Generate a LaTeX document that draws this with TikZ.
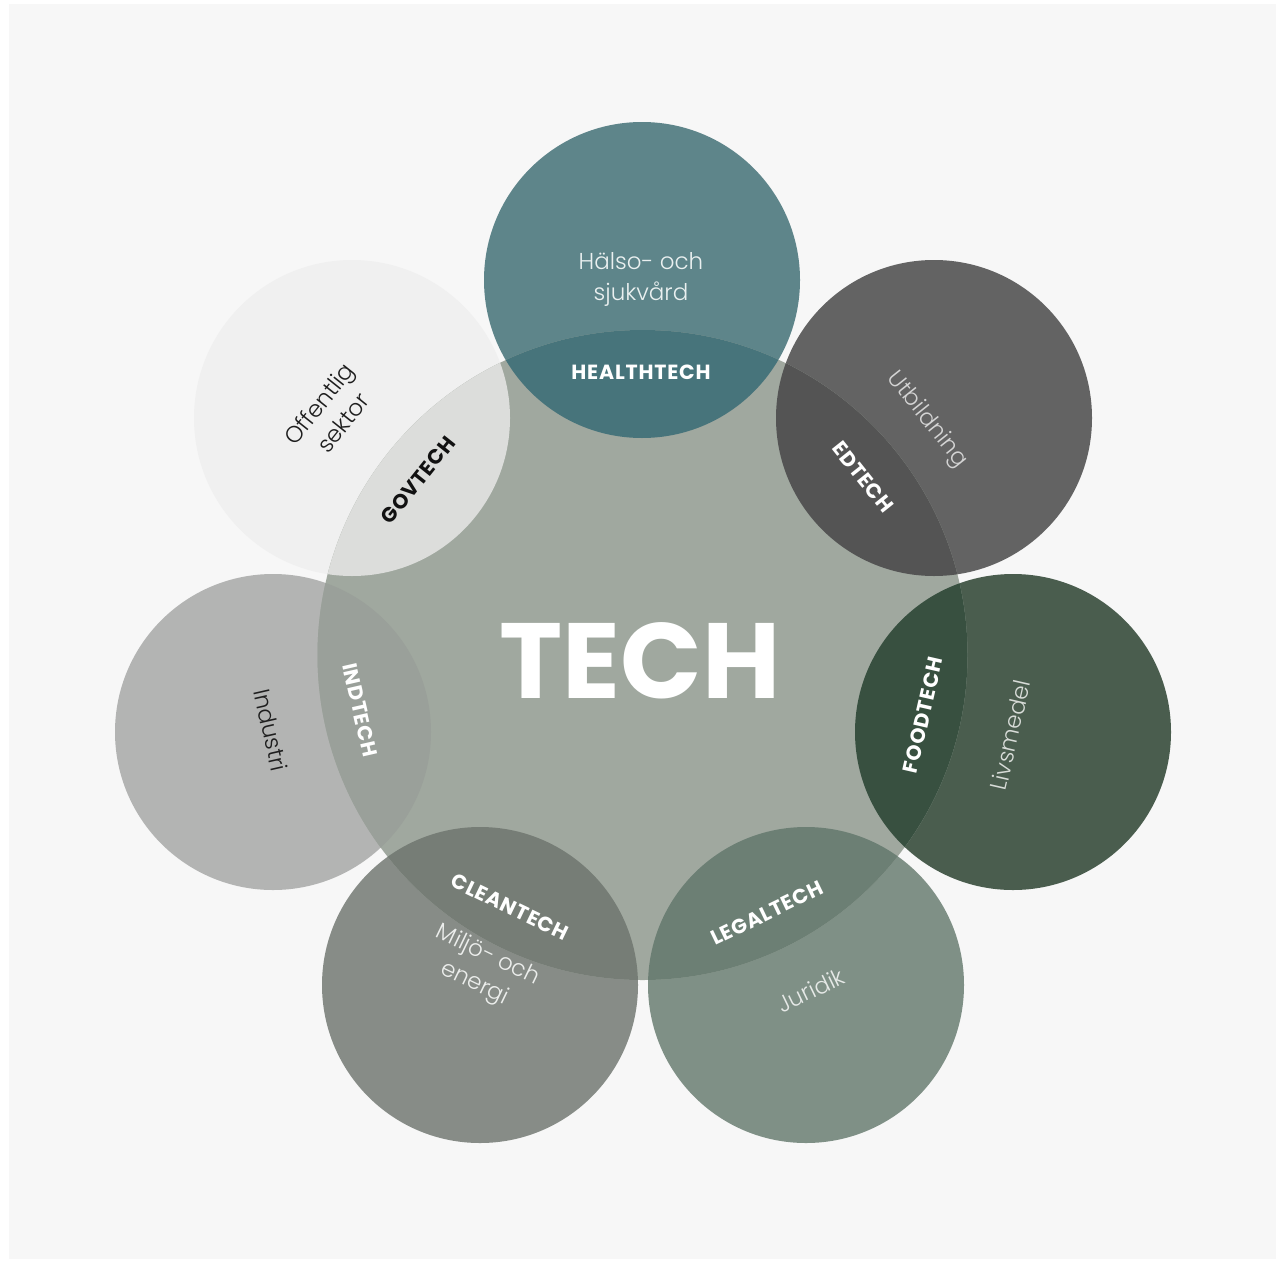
\documentclass[tikz,border=0pt]{standalone}
\usepackage{fontspec}
\setmainfont{Poppins}
\newfontfamily\lightfont{Poppins Light}
\newfontfamily\techfont{Poppins}[LetterSpace=4]
\definecolor{bgc}{HTML}{F7F7F7}
\definecolor{centralC}{HTML}{A0A89F}
\definecolor{healthC}{HTML}{5E858A}\definecolor{healthO}{HTML}{47747B}
\definecolor{edC}{HTML}{636363}\definecolor{edO}{HTML}{545454}
\definecolor{foodC}{HTML}{4A5D4E}\definecolor{foodO}{HTML}{385040}
\definecolor{legalC}{HTML}{7F9086}\definecolor{legalO}{HTML}{6C7F74}
\definecolor{cleanC}{HTML}{878C87}\definecolor{cleanO}{HTML}{767D76}
\definecolor{indC}{HTML}{B3B4B3}\definecolor{indO}{HTML}{9AA09A}
\definecolor{govC}{HTML}{F0F0F0}\definecolor{govO}{HTML}{DCDDDB}
\definecolor{thlC}{HTML}{EAF0F0}
\definecolor{tedC}{HTML}{D4D4D4}
\definecolor{tfdC}{HTML}{D8DCD8}
\definecolor{tlgC}{HTML}{E6E9E7}
\definecolor{tclC}{HTML}{ECEEEC}
\definecolor{darkT}{HTML}{1E1E1E}
\definecolor{govT}{HTML}{111111}
\tikzset{
  sector/.style={font=\lightfont\fontsize{23}{31}\selectfont, align=center, inner sep=0pt},
  techlabel/.style={font=\techfont\bfseries\fontsize{20.5}{24}\selectfont, inner sep=0pt, text=white},
}
\begin{document}
\begin{tikzpicture}[x=1pt,y=-1pt]
\useasboundingbox (0,0) rectangle (1281,1263);
\fill[white] (0,0) rectangle (1281,1263);
\fill[bgc] (9,4) rectangle (1276,1259);
% centres
\coordinate (C) at (642.5,655);
\coordinate (hl) at (642,280);
\coordinate (ed) at (934,418);
\coordinate (fd) at (1013,732);
\coordinate (lg) at (806,985);
\coordinate (cl) at (480,985);
\coordinate (in) at (273,732);
\coordinate (gv) at (352,418);
% outer circles
\foreach \nm/\fc in {hl/healthC,ed/edC,fd/foodC,lg/legalC,cl/cleanC,in/indC,gv/govC}{
  \fill[\fc] (\nm) circle[radius=158pt];
}
% central circle
\fill[centralC] (C) circle[radius=325pt];
% overlaps
\foreach \nm/\oc in {hl/healthO,ed/edO,fd/foodO,lg/legalO,cl/cleanO,in/indO,gv/govO}{
  \begin{scope}
    \clip (C) circle[radius=325pt];
    \fill[\oc] (\nm) circle[radius=158pt];
  \end{scope}
}
% central text
\node[font=\bfseries\fontsize{107}{110}\selectfont, text=white, inner sep=0pt] (tech) at (640,661) {TECH};
% sector labels
\node[sector, text=thlC] (thl) at (641,279) {Hälso- och\\sjukvård};
\node[sector, text=tedC, rotate=-51.43] (ted) at (927,420) {Utbildning};
\node[sector, text=tfdC, rotate=77.14] (tfd) at (1010,735) {Livsmedel};
\node[sector, text=tlgC, rotate=25.71] (tlg) at (811,990) {Juridik};
\node[sector, text=tclC, rotate=-25.71] (tcl) at (481,970) {Miljö- och\\energi};
\node[sector, text=darkT, rotate=-77.14] (tin) at (271,730) {Industri};
\node[sector, text=darkT, rotate=51.43] (tgv) at (331,413) {Offentlig\\sektor};
% tech labels
\node[techlabel] (lhl) at (641,372) {HEALTHTECH};
\node[techlabel, rotate=-51.43] (led) at (863,477) {EDTECH};
\node[techlabel, rotate=77.14] (lfd) at (923,715) {FOODTECH};
\node[techlabel, rotate=25.71] (llg) at (767,913) {LEGALTECH};
\node[techlabel, rotate=-25.71] (lcl) at (510,907) {CLEANTECH};
\node[techlabel, rotate=-77.14] (lin) at (360,710) {INDTECH};
\node[techlabel, text=govT, rotate=51.43] (lgv) at (418,480) {GOVTECH};
\end{tikzpicture}
\end{document}
